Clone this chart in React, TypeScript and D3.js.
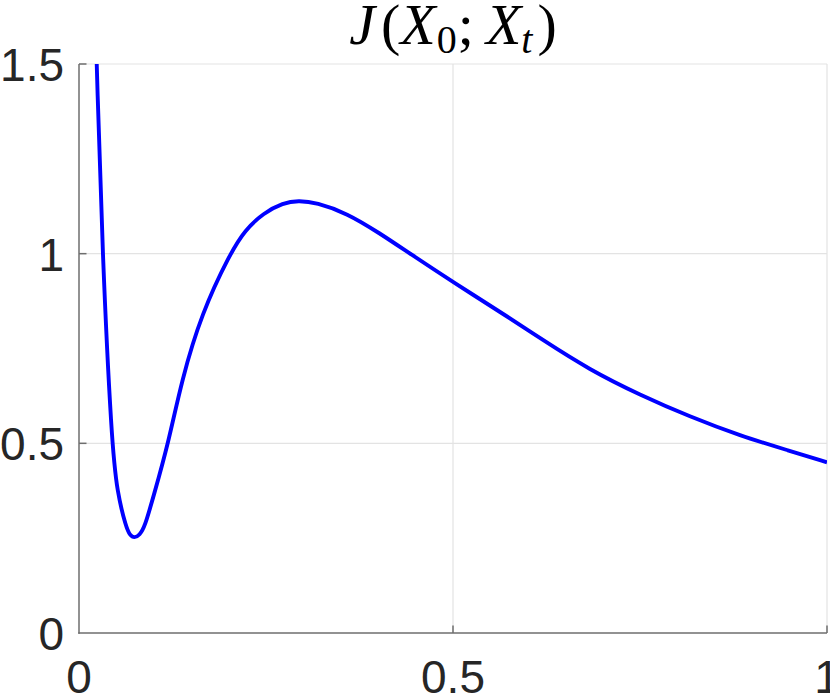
import React, { useEffect, useRef } from "react";
import * as d3 from "d3";

// values
const tValues = [
  0.0237, 0.0312, 0.0437, 0.0512, 0.063, 0.068, 0.074, 0.081, 0.088, 0.0994,
  0.1194, 0.1373, 0.164, 0.2019, 0.2219, 0.2464, 0.273, 0.2932, 0.317, 0.358,
  0.402, 0.4425, 0.5, 0.5762, 0.6163, 0.6832, 0.75, 0.8168, 0.8837, 0.9505, 1.0,
];
const jValues = [
  1.5, 1.0, 0.5, 0.369, 0.278, 0.258, 0.25, 0.258, 0.28, 0.359,
  0.5, 0.667, 0.843, 1.0, 1.062, 1.107, 1.134, 1.14, 1.135, 1.107,
  1.054, 1.0, 0.925, 0.83, 0.777, 0.693, 0.6275, 0.57, 0.52, 0.48, 0.45,
];
const xTicks = [0, 0.5, 1];
const yTicks = [0, 0.5, 1, 1.5];
const xTickLabels = ["0", "0.5", "1"];
const yTickLabels = ["0", "0.5", "1", "1.5"];

const App: React.FC = () => {
  const svgRef = useRef<SVGSVGElement | null>(null);

  useEffect(() => {
    document.body.style.margin = "0";
    if (!svgRef.current) return;
    const svg = d3.select(svgRef.current);
    svg.selectAll("*").remove();

    const width = 830;
    const height = 696;
    const left = 79;
    const right = 827;
    const top = 64;
    const bottom = 633;

    svg.attr("width", width).attr("height", height);

    const x = d3.scaleLinear().domain([0, 1]).range([left, right]);
    const y = d3.scaleLinear().domain([0, 1.5]).range([bottom, top]);

    const gridColor = "#e3e3e3";
    const axisColor = "#6e6e6e";
    const textColor = "#262626";
    const tickFont = "'Liberation Sans', Arial, Helvetica, sans-serif";

    // grid
    svg
      .append("g")
      .selectAll("line")
      .data(yTicks.filter((d) => d > 0))
      .enter()
      .append("line")
      .attr("x1", left)
      .attr("x2", right)
      .attr("y1", (d) => y(d))
      .attr("y2", (d) => y(d))
      .attr("stroke", gridColor)
      .attr("stroke-width", 1.2);
    svg
      .append("g")
      .selectAll("line")
      .data(xTicks.filter((d) => d > 0))
      .enter()
      .append("line")
      .attr("x1", (d) => x(d))
      .attr("x2", (d) => x(d))
      .attr("y1", top)
      .attr("y2", bottom)
      .attr("stroke", gridColor)
      .attr("stroke-width", 1.2);

    // curve
    svg
      .append("clipPath")
      .attr("id", "plotClip")
      .append("rect")
      .attr("x", left)
      .attr("y", top)
      .attr("width", right - left)
      .attr("height", bottom - top);

    const points: [number, number][] = tValues.map((t, i) => [t, jValues[i]]);
    const line = d3
      .line<[number, number]>()
      .x((d) => x(d[0]))
      .y((d) => y(d[1]))
      .curve(d3.curveBasis);

    svg
      .append("path")
      .attr("d", line(points) || "")
      .attr("fill", "none")
      .attr("stroke", "#0000ff")
      .attr("stroke-width", 3.9)
      .attr("stroke-linejoin", "round")
      .attr("clip-path", "url(#plotClip)");

    // axes
    const axes = svg.append("g").attr("stroke", axisColor).attr("stroke-width", 1.5);
    axes.append("line").attr("x1", left).attr("x2", left).attr("y1", top).attr("y2", bottom + 0.75);
    axes.append("line").attr("x1", left - 0.75).attr("x2", right).attr("y1", bottom).attr("y2", bottom);
    axes
      .selectAll(".yt")
      .data(yTicks.filter((d) => d > 0))
      .enter()
      .append("line")
      .attr("x1", left)
      .attr("x2", left + 7.5)
      .attr("y1", (d) => y(d))
      .attr("y2", (d) => y(d));
    axes
      .selectAll(".xt")
      .data(xTicks.filter((d) => d > 0))
      .enter()
      .append("line")
      .attr("x1", (d) => x(d))
      .attr("x2", (d) => x(d))
      .attr("y1", bottom)
      .attr("y2", bottom - 7.5);

    // tick labels
    svg
      .append("g")
      .selectAll("text")
      .data(yTicks)
      .enter()
      .append("text")
      .attr("x", 64)
      .attr("y", (d) => y(d) + 17)
      .attr("text-anchor", "end")
      .attr("font-family", tickFont)
      .attr("font-size", 46)
      .attr("fill", textColor)
      .text((d, i) => yTickLabels[i]);

    svg
      .append("g")
      .selectAll("text")
      .data(xTicks)
      .enter()
      .append("text")
      .attr("x", (d) => x(d))
      .attr("y", 693)
      .attr("text-anchor", "middle")
      .attr("font-family", tickFont)
      .attr("font-size", 46)
      .attr("fill", textColor)
      .text((d, i) => xTickLabels[i]);

    // title J(X_0; X_t)
    const title = svg
      .append("text")
      .attr("x", (left + right) / 2)
      .attr("y", 44)
      .attr("text-anchor", "middle")
      .attr("font-family", "'Liberation Serif', 'Times New Roman', serif")
      .attr("font-size", 58)
      .attr("fill", "#000");
    title.append("tspan").attr("font-style", "italic").text("J");
    title.append("tspan").attr("dx", 6).text("(");
    title.append("tspan").attr("font-style", "italic").text("X");
    title.append("tspan").attr("font-size", 40).attr("dy", 9).attr("dx", 1).text("0");
    title.append("tspan").attr("dy", -9).attr("dx", 1).text(";");
    title.append("tspan").attr("dx", 12).attr("font-style", "italic").text("X");
    title.append("tspan").attr("font-size", 40).attr("font-style", "italic").attr("dy", 9).text("t");
    title.append("tspan").attr("dy", -9).attr("dx", 5).text(")");
  }, []);

  return <svg ref={svgRef}></svg>;
};

export default App;
